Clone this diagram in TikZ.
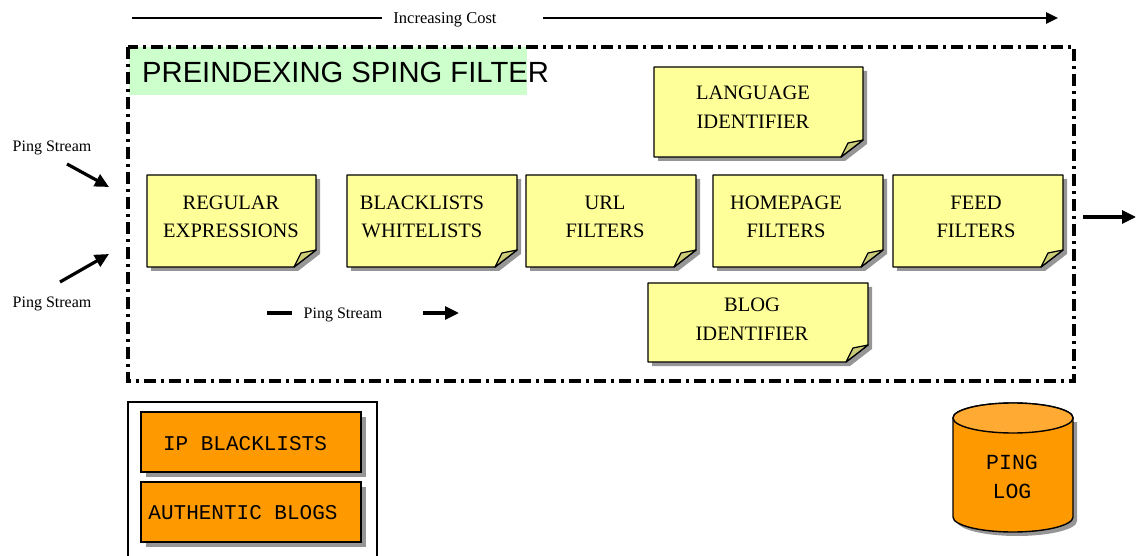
\documentclass[tikz,border=0pt]{standalone}
\usepackage{fontspec}
\setmainfont{Liberation Serif}
\newfontfamily\sansf{Liberation Sans}
\newfontfamily\monof{Liberation Mono}
\usetikzlibrary{arrows.meta}
\definecolor{noteyellow}{RGB}{255,255,153}
\definecolor{notefold}{RGB}{204,204,120}
\definecolor{shadowgray}{RGB}{150,150,150}
\definecolor{lightgreen}{RGB}{204,255,204}
\definecolor{orangefill}{RGB}{255,153,0}
\definecolor{orangetop}{RGB}{255,170,50}
\tikzset{
  noteshadow/.style={fill=shadowgray},
  notebody/.style={draw=black, line width=1.4pt, fill=noteyellow, line join=round},
  notefoldstyle/.style={draw=black, line width=1.2pt, fill=notefold, line join=round},
  notetext/.style={align=center, font=\fontsize{20.5}{28.5}\selectfont, inner sep=0pt},
  smalltext/.style={font=\fontsize{16}{18}\selectfont, inner sep=0pt},
  costarrow/.style={line width=2.5pt, -{Triangle[length=12pt,width=11pt]}},
  costline/.style={line width=2.5pt},
  pingarrow/.style={line width=3.2pt, -{Triangle[length=14pt,width=13pt]}},
  pingline/.style={line width=3.2pt},
  frame/.style={line width=3.5pt, dash pattern=on 12pt off 5pt on 3pt off 5pt},
  orangebox/.style={draw=black, line width=1.5pt, fill=orangefill},
  monotext/.style={font=\monof\fontsize{21}{28}\selectfont, inner sep=0pt, align=center},
}
% #1 name, #2 x1, #3 y1, #4 x2, #5 y2, #6 text, #7 text x, #8 text y
\newcommand\stickynote[8]{%
  \fill[noteshadow] (#2+4,#3+4) -- (#4+4,#3+4) -- (#4+4,#5-17+4) -- (#4-22+4,#5+4) -- (#2+4,#5+4) -- cycle;
  \draw[notebody] (#2,#3) -- (#4,#3) -- (#4,#5-17) -- (#4-22,#5) -- (#2,#5) -- cycle;
  \draw[notefoldstyle] (#4-22,#5) .. controls (#4-19,#5-6) .. (#4-15,#5-14) .. controls (#4-8,#5-15) .. (#4,#5-17) -- cycle;
  \node[notetext] (#1) at (#7,#8) {#6};
}
\begin{document}
\begin{tikzpicture}[x=1pt,y=-1pt]
\useasboundingbox (0,0) rectangle (1136,556);

% Increasing cost
\node[smalltext, font=\fontsize{16.5}{18}\selectfont] (cost) at (445,20) {Increasing Cost};
\coordinate (c0) at (132,18);
\coordinate (ca) at (382,18);
\coordinate (cb) at (543,18);
\coordinate (c1) at (1058,18);
\draw[costline] (c0) -- (ca);
\draw[costarrow] (cb) -- (c1);

% green title band
\fill[lightgreen] (129,47) rectangle (527,95);
\coordinate (fr1) at (128,47);
\coordinate (fr2) at (1074,381);
\draw[frame] (fr1) rectangle (fr2);
\node[anchor=base west, inner sep=0pt, font=\sansf\fontsize{29.2}{30}\selectfont] (title) at (142,83) {PREINDEXING SPING FILTER};

% sticky notes
\stickynote{rx}{147}{175}{316}{267}{REGULAR\\EXPRESSIONS}{231}{217}
\stickynote{bw}{347}{175}{517}{267}{BLACKLISTS\\WHITELISTS}{422}{217}
\stickynote{url}{526}{175}{696}{267}{URL\\FILTERS}{605}{217}
\stickynote{home}{713}{175}{883}{267}{HOMEPAGE\\FILTERS}{786}{217}
\stickynote{feed}{893}{175}{1063}{267}{FEED\\FILTERS}{976}{217}
\stickynote{lang}{654}{67}{863}{157}{LANGUAGE\\IDENTIFIER}{753}{107}
\stickynote{blog}{648}{283}{868}{362}{BLOG\\IDENTIFIER}{752}{319}

% incoming ping streams
\node[smalltext] (ps1) at (52,148) {Ping Stream};
\node[smalltext] (ps2) at (52,304) {Ping Stream};
\coordinate (a1s) at (67,164);
\coordinate (a1e) at (109,187);
\coordinate (a2s) at (60,282);
\coordinate (a2e) at (109,254);
\draw[pingarrow] (a1s) -- (a1e);
\draw[pingarrow] (a2s) -- (a2e);

% outgoing arrow
\coordinate (outs) at (1083,217);
\coordinate (oute) at (1136,217);
\draw[pingarrow] (outs) -- (oute);

% inner ping stream
\node[smalltext] (ps3) at (343,315) {Ping Stream};
\coordinate (p3a) at (267,313);
\coordinate (p3b) at (292,313);
\coordinate (p3c) at (423,313);
\coordinate (p3d) at (459,313);
\draw[pingline] (p3a) -- (p3b);
\draw[pingarrow] (p3c) -- (p3d);

% bottom-left lists box
\draw[line width=1.2pt] (128,560) -- (128,402) -- (377,402) -- (377,560);
\fill[shadowgray] (146,417) rectangle (366,477);
\draw[orangebox] (141,412) rectangle (361,472);
\node[monotext] (ipbl) at (245,444) {IP BLACKLISTS};
\fill[shadowgray] (146,487) rectangle (366,547);
\draw[orangebox] (141,482) rectangle (361,542);
\node[monotext] (auth) at (243,513) {AUTHENTIC BLOGS};

% ping log cylinder
\fill[shadowgray] (957,422) -- (957,521) arc[start angle=180,end angle=360,x radius=60pt,y radius=15pt] -- (1077,422) -- cycle;
\draw[line width=1.4pt, fill=orangefill] (953,418) -- (953,517) arc[start angle=180,end angle=360,x radius=60pt,y radius=15pt] -- (1073,418) arc[start angle=0,end angle=180,x radius=60pt,y radius=15pt] -- cycle;
\draw[line width=1.4pt, fill=orangetop] (1013,418) ellipse[x radius=60pt,y radius=15pt];
\node[monotext, font=\monof\fontsize{21.5}{29}\selectfont] (pinglog) at (1012,477) {PING\\LOG};
\end{tikzpicture}
\end{document}
